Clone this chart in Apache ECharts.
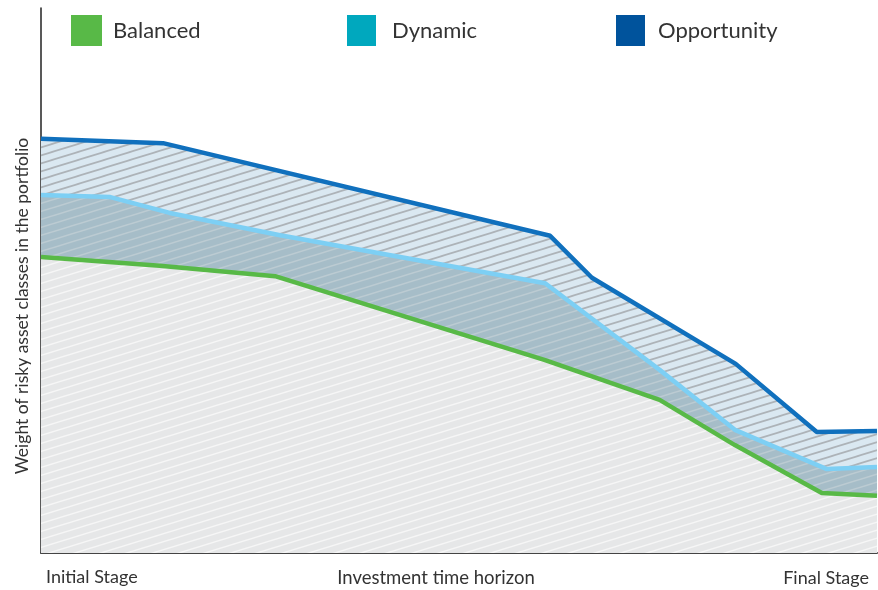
<!DOCTYPE html>
<html>
<head>
<meta charset="utf-8">
<script src="https://cdn.jsdelivr.net/npm/echarts@6/dist/echarts.min.js"></script>
<style>
html,body{margin:0;padding:0;background:#fff;}
#chart{width:878px;height:590px;}
</style>
</head>
<body>
<div id="chart"></div>
<script>
// Data (x: position along investment horizon 0-100, y: weight of risky assets 0-100)
var seriesNames = ['Balanced', 'Dynamic', 'Opportunity'];
var opportunityX = [0, 14.6, 60.9, 65.9, 83.1, 92.8, 100];
var opportunityY = [76.0, 75.2, 58.2, 50.5, 34.7, 22.2, 22.4];
var dynamicX = [0, 8.3, 15.4, 28.6, 60.3, 74.0, 83.0, 94.0, 100];
var dynamicY = [65.7, 65.3, 62.4, 58.3, 49.5, 33.6, 22.6, 15.4, 15.8];
var balancedX = [0, 14.2, 28.0, 60.3, 74.0, 83.0, 93.4, 100];
var balancedY = [54.3, 52.7, 50.8, 35.4, 28.1, 19.8, 11.0, 10.5];
var stageLabels = ['Initial Stage', 'Investment time horizon', 'Final Stage'];
var yAxisTitle = 'Weight of risky asset classes in the portfolio';

function zip(xs, ys){ return xs.map(function(x,i){ return [x, ys[i]]; }); }

function hatch(bg, fg, lw){
  var W = 26, H = 8;
  var c = document.createElement('canvas');
  c.width = W; c.height = H;
  var g = c.getContext('2d');
  g.fillStyle = bg; g.fillRect(0,0,W,H);
  g.strokeStyle = fg; g.lineWidth = lw;
  for (var k = -1; k <= 1; k++) {
    g.beginPath();
    g.moveTo(-W, H + k*H + H);
    g.lineTo(2*W, k*H - H);
    g.stroke();
  }
  return {image: c, repeat: 'repeat'};
}

var chart = echarts.init(document.getElementById('chart'));
var fontFam = 'Lato, "Open Sans", sans-serif';

function legendAt(name, color, left, w, gap){
  return {
    data: [{name: name, itemStyle: {color: color}}],
    left: left, top: 10,
    icon: 'rect', itemWidth: w, itemHeight: 31, itemGap: 0,
    textStyle: {fontSize: 22, color: '#333', fontFamily: fontFam, padding: [0,0,0,gap-5]},
    selectedMode: false
  };
}

var option = {
  animation: false,
  backgroundColor: '#fff',
  grid: {left: 41, right: 1, top: 8, bottom: 37, containLabel: false},
  legend: [
    legendAt('Balanced', '#58b947', 66, 31, 11),
    legendAt('Dynamic', '#00a8be', 342, 29, 16),
    legendAt('Opportunity', '#00539c', 611, 29, 13)
  ],
  xAxis: {
    type: 'value', min: 0, max: 100,
    axisLine: {show: true, lineStyle: {color: '#444', width: 2}},
    axisTick: {show: false}, axisLabel: {show: false}, splitLine: {show: false}
  },
  yAxis: {
    type: 'value', min: 0, max: 100,
    axisLine: {show: true, lineStyle: {color: '#222', width: 1.5}},
    axisTick: {show: false}, axisLabel: {show: false}, splitLine: {show: false}
  },
  graphic: [
    {type: 'text', left: 46, top: 568, style: {text: stageLabels[0], fontSize: 18, fill: '#333', fontFamily: fontFam}},
    {type: 'text', x: 436, y: 578, style: {text: stageLabels[1], fontSize: 18.5, fill: '#333', fontFamily: fontFam, align: 'center', verticalAlign: 'middle'}},
    {type: 'text', x: 869, y: 578, style: {text: stageLabels[2], fontSize: 18, fill: '#333', fontFamily: fontFam, align: 'right', verticalAlign: 'middle'}},
    {type: 'text', x: 22, y: 306, rotation: Math.PI/2, style: {text: yAxisTitle, fontSize: 17.5, fill: '#333', fontFamily: fontFam, align: 'center', verticalAlign: 'middle'}}
  ],
  series: [
    {
      name: 'Opportunity', type: 'line', data: zip(opportunityX, opportunityY),
      symbol: 'none', lineStyle: {color: '#1070bd', width: 4.5}, itemStyle: {color: '#00539c'},
      areaStyle: {color: hatch('#dae8f1', '#adb3b8', 1.7), opacity: 1}, z: 2
    },
    {
      name: 'Dynamic', type: 'line', data: zip(dynamicX, dynamicY),
      symbol: 'none', lineStyle: {color: '#7dcff4', width: 4.5}, itemStyle: {color: '#00a8be'},
      areaStyle: {color: hatch('#a6bdc8', '#bccbd2', 1.6), opacity: 1}, z: 3
    },
    {
      name: 'Balanced', type: 'line', data: zip(balancedX, balancedY),
      symbol: 'none', lineStyle: {color: '#58b947', width: 4.5}, itemStyle: {color: '#58b947'},
      areaStyle: {color: hatch('#e6e7e8', '#f6f6f6', 1.4), opacity: 1}, z: 4
    }
  ]
};
chart.setOption(option);
</script>
</body>
</html>
